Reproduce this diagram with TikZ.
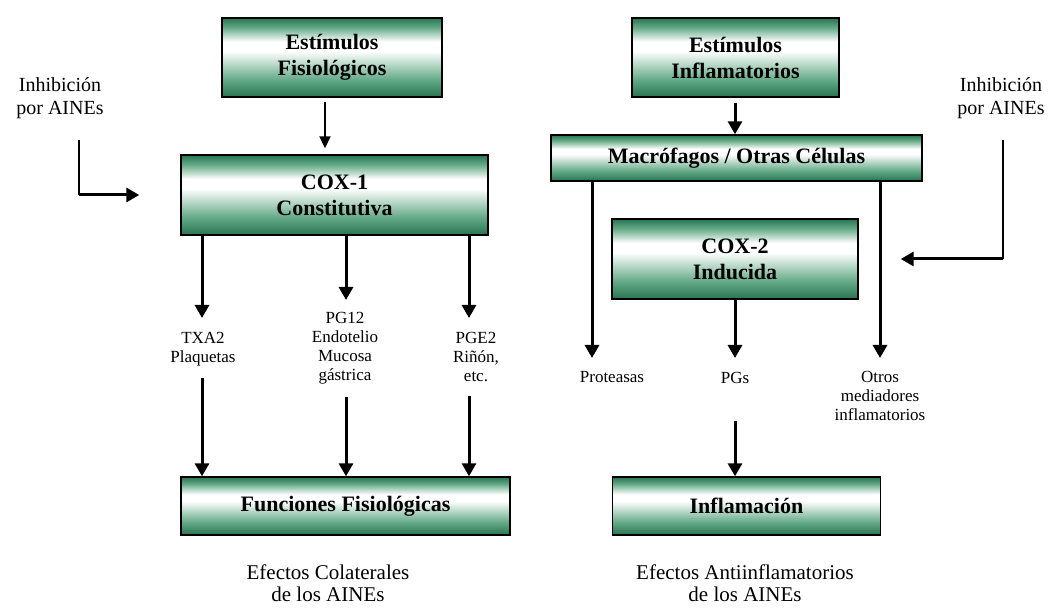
\documentclass[tikz,border=0pt]{standalone}
\usepackage{fontspec}
\setmainfont{Liberation Serif}
\usetikzlibrary{arrows.meta,calc}
\definecolor{gdk}{RGB}{40,115,82}
\definecolor{gmd}{RGB}{100,170,135}
\pgfdeclareverticalshading{boxshade}{100bp}{color(0bp)=(gdk); color(25bp)=(gdk); color(36bp)=(gmd); color(54bp)=(white); color(60bp)=(white); color(69bp)=(gmd); color(75bp)=(gdk); color(100bp)=(gdk)}
\tikzset{
  box/.style={draw=black, line width=1.4pt, shade, shading=boxshade, inner sep=0pt, align=center,
    font=\fontsize{22}{26}\selectfont\bfseries},
  lbl/.style={inner sep=0pt, align=center, font=\fontsize{17}{19}\selectfont},
  capt/.style={inner sep=0pt, align=center, font=\fontsize{21}{22}\selectfont},
  inh/.style={inner sep=0pt, align=center, font=\fontsize{20}{23}\selectfont},
  arr/.style={line width=3pt, -{Triangle[width=14pt,length=13pt]}},
  arrthin/.style={line width=1.8pt, -{Triangle[width=11pt,length=12pt]}},
  thinln/.style={line width=1.4pt}
}
\begin{document}
\begin{tikzpicture}[x=1pt,y=-1pt]
\useasboundingbox (0,0) rectangle (1050,609);
% boxes
\node[box, minimum width=220, minimum height=79] (ef) at (332,57.5) {Estímulos\\Fisiológicos};
\node[box, minimum width=307, minimum height=80] (cox1) at (334.5,195) {COX-1\\Constitutiva};
\node[box, minimum width=329, minimum height=58] (ff) at (345.5,506) {Funciones Fisiológicas};
\node[box, minimum width=207, minimum height=79] (ei) at (735.5,57.5) {Estímulos\\Inflamatorios};
\node[box, minimum width=371, minimum height=46] (mac) at (736.5,158) {Macrófagos / Otras Células};
\node[box, minimum width=246, minimum height=80] (cox2) at (735,259) {COX-2\\Inducida};
\node[box, minimum width=268, minimum height=58] (inf) at (746.5,506) {Inflamación};
% labels
\node[lbl, anchor=north] (txa2) at (203,332) {TXA2\\Plaquetas};
\node[lbl, anchor=north] (pg12) at (345,312) {PG12\\Endotelio\\Mucosa\\gástrica};
\node[lbl, anchor=north] (pge2) at (476,332) {PGE2\\Riñón,\\etc.};
\node[lbl, anchor=north] (prot) at (612,371) {Proteasas};
\node[lbl, anchor=north] (pgs) at (735,372) {PGs};
\node[lbl, anchor=north] (otros) at (880,371) {Otros\\mediadores\\inflamatorios};
\node[capt] (capL) at (328,583) {Efectos Colaterales\\de los AINEs};
\node[capt] (capR) at (745,583) {Efectos Antiinflamatorios\\de los AINEs};
\node[inh] (inhL) at (60,98) {Inhibición\\por AINEs};
\node[inh] (inhR) at (1001,98) {Inhibición\\por AINEs};
% columns
\coordinate (c0) at (325,0);
\coordinate (c1) at (202,0);
\coordinate (c2) at (346,0);
\coordinate (c3) at (469,0);
\coordinate (c4) at (592,0);
\coordinate (c5) at (735,0);
\coordinate (c6) at (880,0);
% left arrows
\draw[arrthin, shorten <=4pt, shorten >=6pt] (ef.south -| c0) -- (cox1.north -| c0);
\draw[arr, shorten >=14pt] (cox1.south -| c1) -- (txa2.north -| c1);
\draw[arr, shorten >=12pt] (cox1.south -| c2) -- (pg12.north -| c2);
\draw[arr, shorten >=14pt] (cox1.south -| c3) -- (pge2.north -| c3);
\draw[arr, shorten <=12pt] (txa2.south -| c1) -- (ff.north -| c1);
\draw[arr, shorten <=13pt] (pg12.south -| c2) -- (ff.north -| c2);
\draw[arr, shorten <=14pt] (pge2.south -| c3) -- (ff.north -| c3);
% right arrows
\draw[arr, shorten <=5pt] (ei.south -| c5) -- (mac.north -| c5);
\draw[arr, shorten >=13pt] (mac.south -| c4) -- (prot.north -| c4);
\draw[arr, shorten >=13pt] (mac.south -| c6) -- (otros.north -| c6);
\draw[arr, shorten >=14pt] (cox2.south -| c5) -- (pgs.north -| c5);
\draw[arr, shorten <=37pt] (pgs.south -| c5) -- (inf.north -| c5);
% inhibition
\coordinate (inhLa) at (79,140);
\coordinate (inhLb) at (79,195);
\draw[thinln] (inhLa) -- (inhLb);
\draw[arr, shorten >=41pt] (inhLb) -- (inhLb -| cox1.west);
\coordinate (inhRa) at (1003,140);
\coordinate (inhRb) at (1003,259);
\draw[thinln] (inhRa) -- (inhRb);
\draw[arr, shorten >=42pt] (inhRb) -- (inhRb -| cox2.east);
\end{tikzpicture}
\end{document}
